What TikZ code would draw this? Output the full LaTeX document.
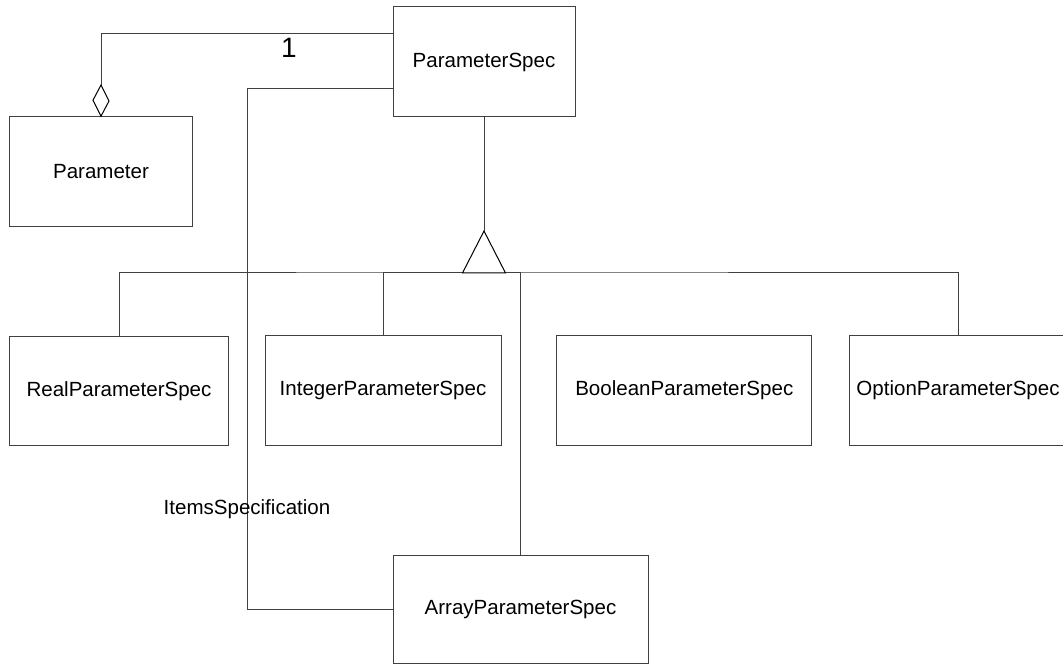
\documentclass[tikz,border=0pt]{standalone}
\usepackage{fontspec}
\setmainfont{Liberation Sans}
\usetikzlibrary{arrows.meta,calc}
\tikzset{
  classbox/.style={draw=black!75, line width=0.75pt, rectangle, inner sep=0pt,
    font=\fontsize{15.4pt}{18pt}\selectfont},
  link/.style={draw=black!75, line width=0.75pt},
  headshape/.style={draw=black, line width=0.75pt, fill=white},
  rolelabel/.style={inner sep=0pt, font=\fontsize{15.4pt}{18pt}\selectfont},
  multlabel/.style={inner sep=0pt, font=\fontsize{21pt}{24pt}\selectfont}
}
\begin{document}
\begin{tikzpicture}[x=0.75pt,y=-0.75pt]
\useasboundingbox (0,0) rectangle (1063,666);

% classes
\node[classbox, minimum width=136.5pt, minimum height=82.5pt] (ps)    at (484,62)    {ParameterSpec};
\node[classbox, minimum width=137.5pt, minimum height=82.5pt] (param) at (101,171.7) {Parameter};
\node[classbox, minimum width=164.5pt, minimum height=82pt]   (real)  at (119,390.7) {RealParameterSpec};
\node[classbox, minimum width=177pt,   minimum height=82pt]   (int)   at (383,390.5) {IntegerParameterSpec};
\node[classbox, minimum width=191.5pt, minimum height=82pt]   (bool)  at (684.3,390.5) {BooleanParameterSpec};
\node[classbox, minimum width=163.5pt, minimum height=82pt]   (opt)   at (958,390.5) {OptionParameterSpec};
\node[classbox, minimum width=191.25pt, minimum height=81pt]  (arr)   at (520.5,609) {ArrayParameterSpec};

% aggregation: Parameter holds one ParameterSpec
\coordinate (aggbend) at (101,34);
\coordinate (dtop) at (101,85);
\draw[link] (ps.west |- aggbend) -- (aggbend) -- (dtop);
\draw[headshape] (dtop) -- ++(8,16) -- (param.north) -- ++(-8,-16) -- cycle;
\node[multlabel] (mult) at (289,48) {1};

% ItemsSpecification association
\coordinate (itembend) at (247,89);
\draw[link] (ps.west |- itembend) -- (itembend) |- (arr.west);
\node[rolelabel] (role) at (247,509) {ItemsSpecification};

% generalization
\coordinate (hub) at (484,273);
\coordinate (apex) at (484,231);
\draw[link] (real.north) |- (hub) -| (opt.north);
\draw[link] (int.north) |- (hub);
\draw[link] (arr.north) |- (hub);
\draw[link] (ps.south) -- (apex);
\draw[headshape] (apex) -- ($(hub)+(21.5,0)$) -- ($(hub)+(-21.5,0)$) -- cycle;
\end{tikzpicture}
\end{document}
